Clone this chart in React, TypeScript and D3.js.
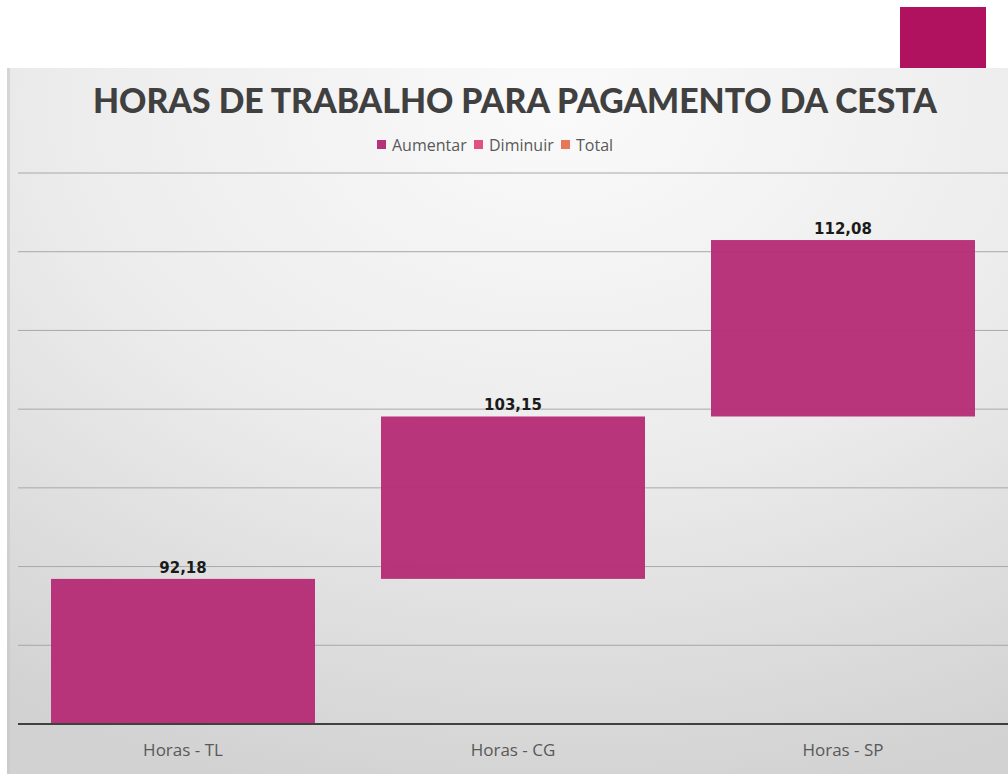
import React from "react";
import * as d3 from "d3";

const categories = ["Horas - TL", "Horas - CG", "Horas - SP"];
const values = [92.18, 103.15, 112.08];
const labels = ["92,18", "103,15", "112,08"];
const legendItems = ["Aumentar", "Diminuir", "Total"];
const legendColors = ["#b5317a", "#e0517f", "#e8775a"];
const gridTicks = [0, 50, 100, 150, 200, 250, 300, 350];
const title = "HORAS DE TRABALHO PARA PAGAMENTO DA CESTA";

export default function App() {
  const W = 1008, H = 774;
  const x = d3.scaleBand<string>().domain(categories).range([18, 1008]).paddingInner(0.2).paddingOuter(0.1);
  const y = d3.scaleLinear().domain([0, 350]).range([724, 173]);
  const cum: { start: number; end: number }[] = [];
  let acc = 0;
  values.forEach((v) => { cum.push({ start: acc, end: acc + v }); acc += v; });

  const legendX = [377, 474, 561];

  return (
    <svg width={W} height={H} style={{ position: "absolute", left: 0, top: 0 }}>
      <defs>
        <radialGradient id="bg" cx="0.55" cy="0.05" r="1.0">
          <stop offset="0" stopColor="#fafafa" />
          <stop offset="0.5" stopColor="#ececec" />
          <stop offset="1" stopColor="#d2d2d2" />
        </radialGradient>
      </defs>
      <rect x={0} y={0} width={W} height={H} fill="#ffffff" />
      <rect x={900} y={7} width={86} height={62} fill="#b0125f" />
      <rect x={7} y={68} width={W - 7} height={H - 68} fill="url(#bg)" />
      <rect x={7} y={68} width={3} height={H - 68} fill="#c8c8c8" opacity={0.6} />
      <text x={515} y={113} textAnchor="middle" fontFamily="Lato, sans-serif" fontWeight="900" fontSize={34} fill="#404040" textLength={844} lengthAdjust="spacingAndGlyphs">{title}</text>
      {legendItems.map((t, i) => (
        <g key={t}>
          <rect x={legendX[i]} y={140} width={9} height={9} fill={legendColors[i]} />
          <text x={legendX[i] + 15} y={151} fontFamily="'Open Sans', sans-serif" fontSize={16} fill="#595959">{t}</text>
        </g>
      ))}
      {gridTicks.slice(1).map((t) => (
        <line key={t} x1={18} x2={1008} y1={y(t)} y2={y(t)} stroke="#a8a8a8" strokeWidth={1} />
      ))}
      {categories.map((c, i) => (
        <g key={c}>
          <rect x={x(c)} y={y(cum[i].end)} width={x.bandwidth()} height={y(cum[i].start) - y(cum[i].end)} fill="#b72e77" opacity={0.97} />
          <text x={(x(c) as number) + x.bandwidth() / 2} y={y(cum[i].end) - 6} textAnchor="middle" fontFamily="'DejaVu Sans', sans-serif" fontWeight="bold" fontSize={15} fill="#1a1a1a">{labels[i]}</text>
          <text x={(x(c) as number) + x.bandwidth() / 2} y={756} textAnchor="middle" fontFamily="'Open Sans', sans-serif" fontSize={17} fill="#595959">{c}</text>
        </g>
      ))}
      <line x1={18} x2={1008} y1={y(0)} y2={y(0)} stroke="#404040" strokeWidth={2} />
    </svg>
  );
}
